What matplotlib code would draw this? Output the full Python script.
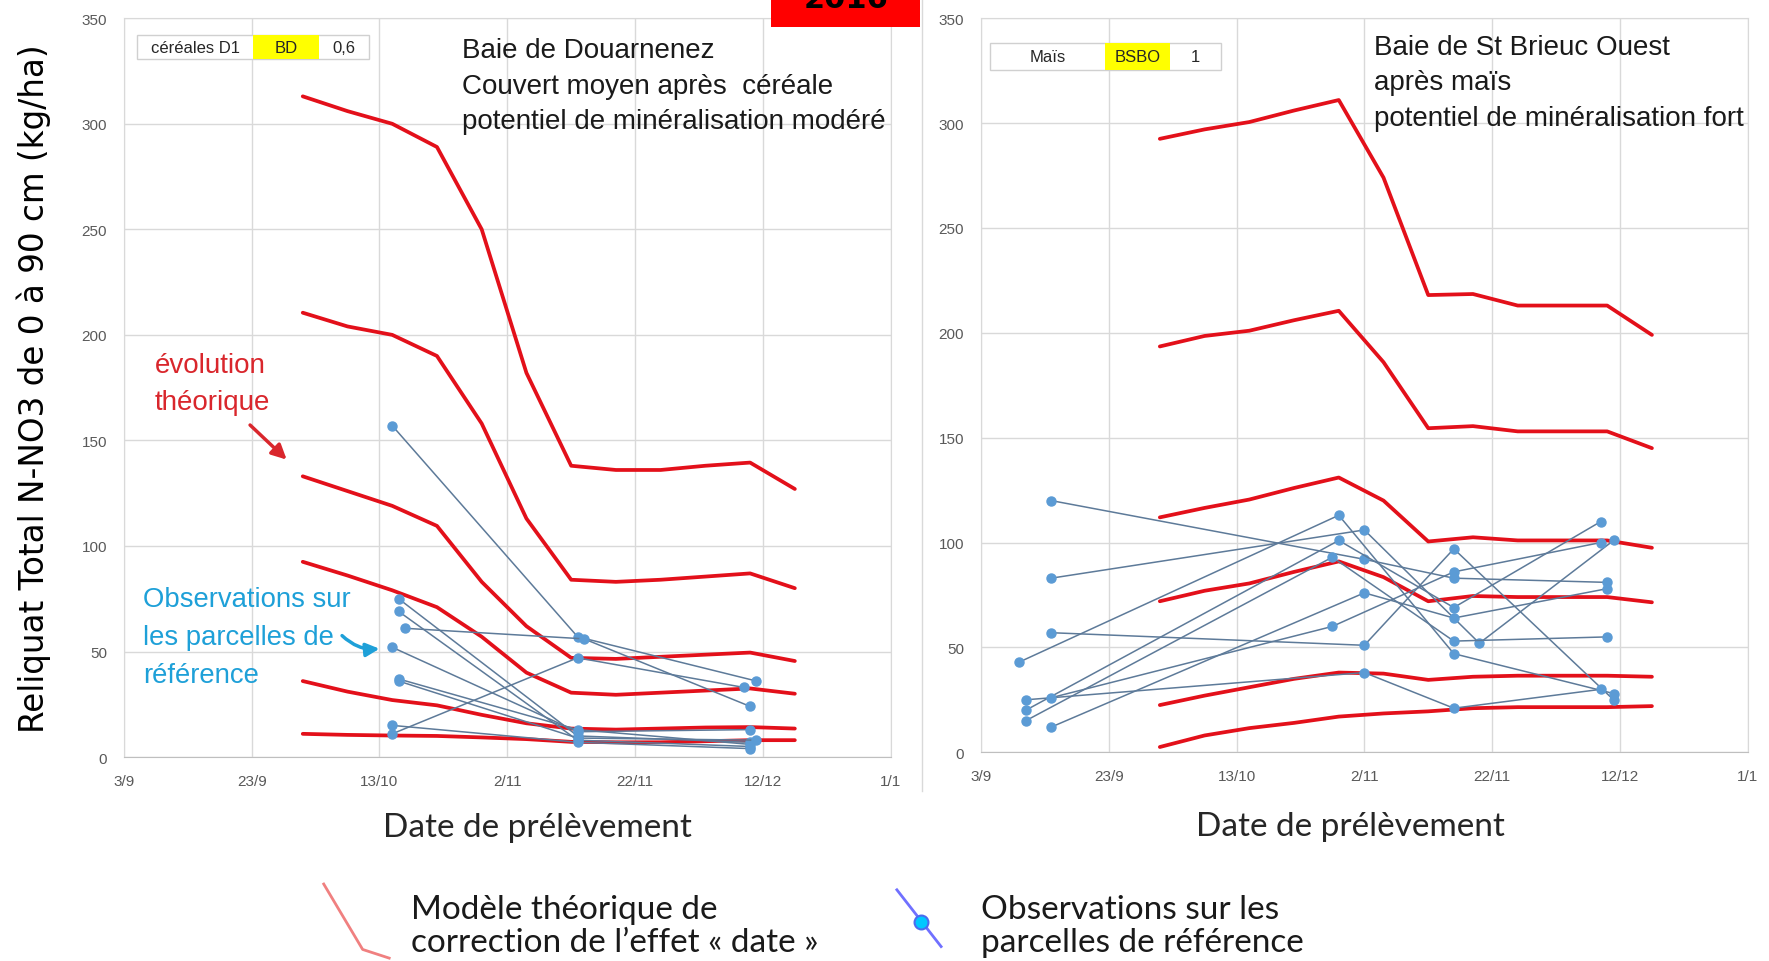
import numpy as np
import matplotlib
matplotlib.use("Agg")
import matplotlib.pyplot as plt
from matplotlib.patches import Rectangle
from matplotlib.lines import Line2D

# axes
tick_dates = np.array(["2016-09-03", "2016-09-23", "2016-10-13", "2016-11-02",
                       "2016-11-22", "2016-12-12", "2017-01-01"], dtype="datetime64[D]")
tick_labels = ["3/9", "23/9", "13/10", "2/11", "22/11", "12/12", "1/1"]
y_ticks = [0, 50, 100, 150, 200, 250, 300, 350]

# modele theorique (valeurs hebdomadaires)
model_dates = np.array(["2016-10-01", "2016-10-08", "2016-10-15", "2016-10-22",
                        "2016-10-29", "2016-11-05", "2016-11-12", "2016-11-19",
                        "2016-11-26", "2016-12-03", "2016-12-10", "2016-12-17"],
                       dtype="datetime64[D]")

bd_model = [
    [313, 306, 300, 289, 250, 182, 138, 136, 136, 138, 139.5, 127],
    [210.5, 204, 200, 190, 158, 113, 84, 83, 84, 85.5, 87, 80],
    [133, 126, 119, 109.5, 83, 62, 47, 46.5, 47.5, 48.5, 49.5, 45.5],
    [92.5, 86, 79, 71, 57, 40, 30.5, 29.5, 30.5, 31.5, 32.5, 30],
    [36, 31, 27, 24.5, 20, 16, 13.5, 13, 13.5, 14, 14.2, 13.5],
    [11, 10.5, 10.2, 10, 9.3, 8.5, 7.2, 7, 7, 7.5, 8, 8],
]

bsbo_model = [
    [292.5, 297, 300.5, 306, 311, 274, 218, 218.5, 213, 213, 213, 199],
    [193.5, 198.5, 201, 206, 210.5, 186, 154.5, 155.5, 153, 153, 153, 145],
    [112, 116.5, 120.5, 126, 131, 120, 100.5, 102.5, 101, 101, 101, 97.5],
    [72, 77, 80.5, 86, 91, 83.5, 72, 74.5, 74, 74, 74, 71.5],
    [22.5, 27, 31, 35, 38, 37.5, 34.5, 36, 36.5, 36.5, 36.5, 36],
    [2.5, 8, 11.5, 14, 17, 18.5, 19.5, 21, 21.5, 21.5, 21.5, 22],
]

# observations sur les parcelles de reference
bd_obs_dates = [
    ["2016-10-15", "2016-11-13", "2016-12-11"],
    ["2016-10-17", "2016-11-14", "2016-12-10"],
    ["2016-10-15", "2016-11-13", "2016-12-09"],
    ["2016-10-16", "2016-11-13", "2016-12-10"],
    ["2016-10-16", "2016-11-13", "2016-12-10"],
    ["2016-10-15", "2016-11-13", "2016-12-10"],
    ["2016-10-16", "2016-11-13", "2016-12-10"],
    ["2016-10-16", "2016-11-13", "2016-12-11"],
    ["2016-10-15", "2016-11-13", "2016-12-10"],
]
bd_obs_values = [
    [157, 57, 36],
    [61, 56, 24],
    [11, 47, 33],
    [75, 10, 7],
    [69, 8, 5],
    [52, 12, 13],
    [37, 13, 6],
    [36, 9, 8],
    [15, 7, 4],
]

bsbo_obs_dates = [
    ["2016-09-14", "2016-11-02", "2016-11-16", "2016-12-10"],
    ["2016-09-14", "2016-11-02", "2016-11-20", "2016-12-11"],
    ["2016-09-14", "2016-11-02", "2016-11-16", "2016-12-11"],
    ["2016-09-09", "2016-10-29", "2016-11-16", "2016-12-11"],
    ["2016-09-10", "2016-11-02", "2016-11-16", "2016-12-09"],
    ["2016-09-10", "2016-10-29", "2016-11-16", "2016-12-09"],
    ["2016-09-10", "2016-10-28", "2016-11-16", "2016-12-10"],
    ["2016-09-14", "2016-11-02", "2016-11-16", "2016-12-10"],
    ["2016-09-14", "2016-10-28", "2016-11-16", "2016-12-09"],
]
bsbo_obs_values = [
    [120, 92, 83, 81],
    [83, 106, 52, 101],
    [57, 51, 97, 25],
    [43, 113, 47, 28],
    [25, 38, 21, 30],
    [20, 101, 69, 110],
    [15, 93, 53, 55],
    [12, 76, 64, 78],
    [26, 60, 86, 100],
]

RED = "#e3101a"
NARROW = ["Liberation Sans Narrow", "Liberation Sans", "DejaVu Sans"]

fig = plt.figure(figsize=(17.69, 9.62), dpi=100)
ax1 = fig.add_axes([0.070, 0.212, 0.4335, 0.768])
ax2 = fig.add_axes([0.5545, 0.217, 0.4335, 0.763])


def setup(ax, xl_x, xl_y):
    ax.set_xlim(tick_dates[0], tick_dates[-1])
    ax.set_ylim(0, 350)
    ax.set_xticks(tick_dates)
    ax.set_xticklabels(tick_labels)
    ax.set_yticks(y_ticks)
    ax.grid(True, color="#d9d9d9", lw=1)
    ax.set_axisbelow(True)
    for s in ax.spines.values():
        s.set_color("#d9d9d9")
    ax.spines["bottom"].set_color("#bfbfbf")
    ax.tick_params(length=0, colors="#595959", labelsize=11)
    ax.tick_params(axis="x", pad=12)
    ax.tick_params(axis="y", pad=12)
    for lab in ax.get_xticklabels() + ax.get_yticklabels():
        lab.set_family(NARROW)
    ax.set_xlabel("Date de prélèvement", fontsize=24, family="Lato",
                  color="#262626")
    ax.xaxis.set_label_coords(xl_x, xl_y)
    ax.xaxis.label.set_va("center")


def draw(ax, model, obs_dates, obs_values):
    for vals in model:
        ax.plot(model_dates, vals, color=RED, lw=2.7, zorder=2,
                solid_joinstyle="round", solid_capstyle="round")
    for d, v in zip(obs_dates, obs_values):
        ax.plot(np.array(d, dtype="datetime64[D]"), v, color="#5d7a99", lw=1.1,
                marker="o", ms=6.5, mfc="#5b9bd5", mec="#5b9bd5", zorder=3)


def info_box(ax, x0, x1, x2, x3, y0, y1, labels):
    ax.add_patch(Rectangle((x0, y0), x3 - x0, y1 - y0, transform=ax.transAxes,
                           fc="white", ec="#d0d0d0", lw=1, zorder=4))
    ax.add_patch(Rectangle((x1, y0), x2 - x1, y1 - y0, transform=ax.transAxes,
                           fc="#ffff00", ec="none", zorder=5))
    ym = (y0 + y1) / 2
    for (a, b), t in zip([(x0, x1), (x1, x2), (x2, x3)], labels):
        ax.text((a + b) / 2, ym, t, transform=ax.transAxes, ha="center",
                va="center", fontsize=12, family=NARROW, color="#262626", zorder=6)


setup(ax1, 0.54, -0.094)
setup(ax2, 0.482, -0.101)
draw(ax1, bd_model, bd_obs_dates, bd_obs_values)
draw(ax2, bsbo_model, bsbo_obs_dates, bsbo_obs_values)

info_box(ax1, 0.0175, 0.169, 0.254, 0.32, 0.945, 0.977, ["céréales D1", "BD", "0,6"])
info_box(ax2, 0.012, 0.162, 0.246, 0.313, 0.929, 0.966, ["Maïs", "BSBO", "1"])

ax1.text(0.441, 0.975, "Baie de Douarnenez\nCouvert moyen après  céréale\n"
         "potentiel de minéralisation modéré", transform=ax1.transAxes,
         ha="left", va="top", fontsize=20, family=NARROW, linespacing=1.49,
         color="#1a1a1a")
ax2.text(0.512, 0.979, "Baie de St Brieuc Ouest\naprès maïs\n"
         "potentiel de minéralisation fort", transform=ax2.transAxes,
         ha="left", va="top", fontsize=20, family=NARROW, linespacing=1.49,
         color="#1a1a1a")

# annotations
ax1.text(0.04, 0.548, "évolution\nthéorique", transform=ax1.transAxes, ha="left",
         va="top", fontsize=20, family=NARROW, color="#d9262c", linespacing=1.55)
ax1.annotate("", xy=(0.215, 0.40), xytext=(0.162, 0.452), xycoords="axes fraction",
             arrowprops=dict(arrowstyle="-|>", color="#d9262c", lw=2.5,
                             mutation_scale=22))
ax1.text(0.025, 0.231, "Observations sur\nles parcelles de\nréférence",
         transform=ax1.transAxes, ha="left", va="top", fontsize=19.8,
         family=NARROW, color="#1ea0d8", linespacing=1.58)
ax1.annotate("", xy=(0.337, 0.147), xytext=(0.282, 0.167), xycoords="axes fraction",
             arrowprops=dict(arrowstyle="-|>", color="#1ea0d8", lw=2.5,
                             mutation_scale=20, connectionstyle="arc3,rad=0.25"))

# texte commun
fig.text(0.019, 0.596, "Reliquat Total N-NO3 de 0 à 90 cm (kg/ha)", rotation=90,
         ha="center", va="center", fontsize=23.5, family="DejaVu Sans", color="black")

# separateur entre les deux graphiques
fig.add_artist(Line2D([0.521, 0.521], [0.177, 1.0], transform=fig.transFigure,
                      color="#d9d9d9", lw=1))

# cartouche 2016
fig.add_artist(Rectangle((0.436, 0.971), 0.084, 0.03, transform=fig.transFigure,
                         fc="#ff0000", ec="none"))
fig.text(0.478, 0.9915, "2016", ha="center", va="baseline", fontsize=22,
         weight="bold", color="black")

# legende du bas
fig.add_artist(Line2D([0.183, 0.205, 0.220], [0.080, 0.012, 0.003],
                      transform=fig.transFigure, color="#f08080", lw=2))
fig.text(0.2326, 0.037, "Modèle théorique de\ncorrection de l’effet « date »",
         ha="left", va="center", fontsize=24, family="Lato", color="#1a1a1a",
         linespacing=1.12)
fig.add_artist(Line2D([0.507, 0.532], [0.074, 0.015], transform=fig.transFigure,
                      color="#7070ff", lw=2))
fig.add_artist(Line2D([0.5205], [0.041], transform=fig.transFigure, marker="o",
                      ms=10, mfc="#00c8ff", mec="#4a6cf0", mew=1.5))
fig.text(0.5545, 0.037, "Observations sur les\nparcelles de référence",
         ha="left", va="center", fontsize=24, family="Lato", color="#1a1a1a",
         linespacing=1.12)

fig.savefig("out.png", dpi=100)
